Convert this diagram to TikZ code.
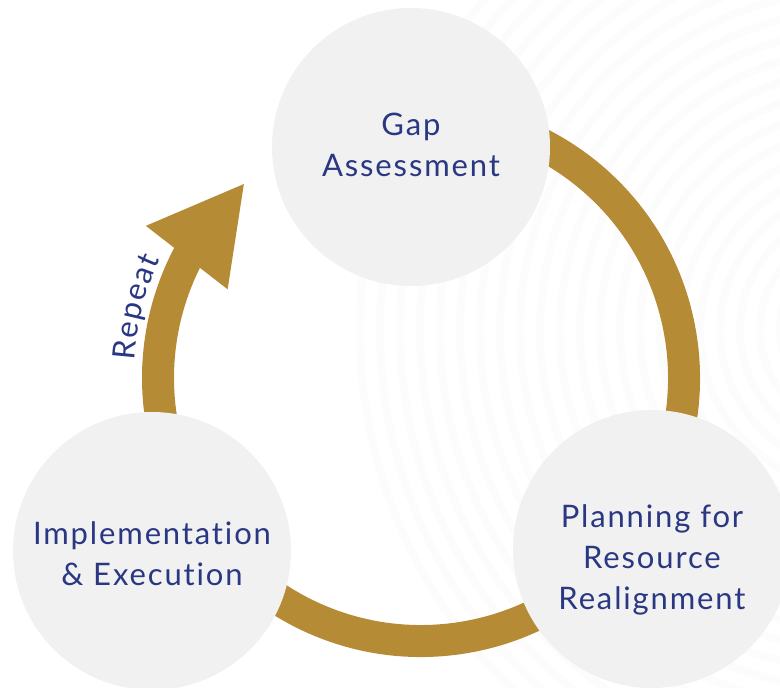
\documentclass[tikz,border=0pt]{standalone}
\usepackage{fontspec}
\setmainfont{Lato}[LetterSpace=6, Ligatures={NoCommon,NoRequired,NoContextual}]
\usetikzlibrary{arrows.meta,bending,decorations.text}

\definecolor{ringgold}{HTML}{B68B35}
\definecolor{stagenavy}{HTML}{2A3782}
\definecolor{stagegray}{HTML}{F1F1F1}
\definecolor{bgfaint}{HTML}{FCFCFC}

\tikzset{
	stage/.style={circle, fill=stagegray, minimum size=278pt, inner sep=0pt},
	stagetext/.style={align=center, text=stagenavy, font=\fontsize{31}{41}\selectfont},
	cycle/.style={draw=ringgold, line width=32pt,
		-{Triangle[length=95pt, width=96pt]}},
	bgring/.style={draw=bgfaint, line width=8pt}
}

\begin{document}
\begin{tikzpicture}[x=1pt, y=1pt]
			\useasboundingbox (0,0) rectangle (780,688);
			\clip (0,0) rectangle (780,688);
			
			% Faint rings in the background
			\foreach \r in {20,40,...,500}
			\draw[bgring] (860,358) circle (\r);
			
			% Draw the cycle with its arrow
			\coordinate (hub) at (421,310);
			\draw[cycle] ([shift={(100:263)}]hub) arc[start angle=460, end angle=132, radius=263];
			
			% Label the arrow along the ring
			\path[decorate, decoration={text along path, text align=fit to path,
				text={|\fontsize{31}{34}\selectfont\color{stagenavy}|Repeat}}]
				([shift={(176.5:287)}]hub) arc[start angle=176.5, end angle=155.5, radius=287];
			
			% Draw the three stages
			\node[stage] (gap) at (411,541) {};
			\node[stage] (plan) at (652,139) {};
			\node[stage] (impl) at (152,137) {};
			
			% Label the stages
			\node[stagetext] (gap-text) at ([yshift=2]gap) {Gap\\Assessment};
			\node[stagetext] (plan-text) at ([yshift=-11]plan) {Planning for\\Resource\\Realignment};
			\node[stagetext] (impl-text) at ([yshift=-3]impl) {Implementation\\\& Execution};
		\end{tikzpicture}
\end{document}
